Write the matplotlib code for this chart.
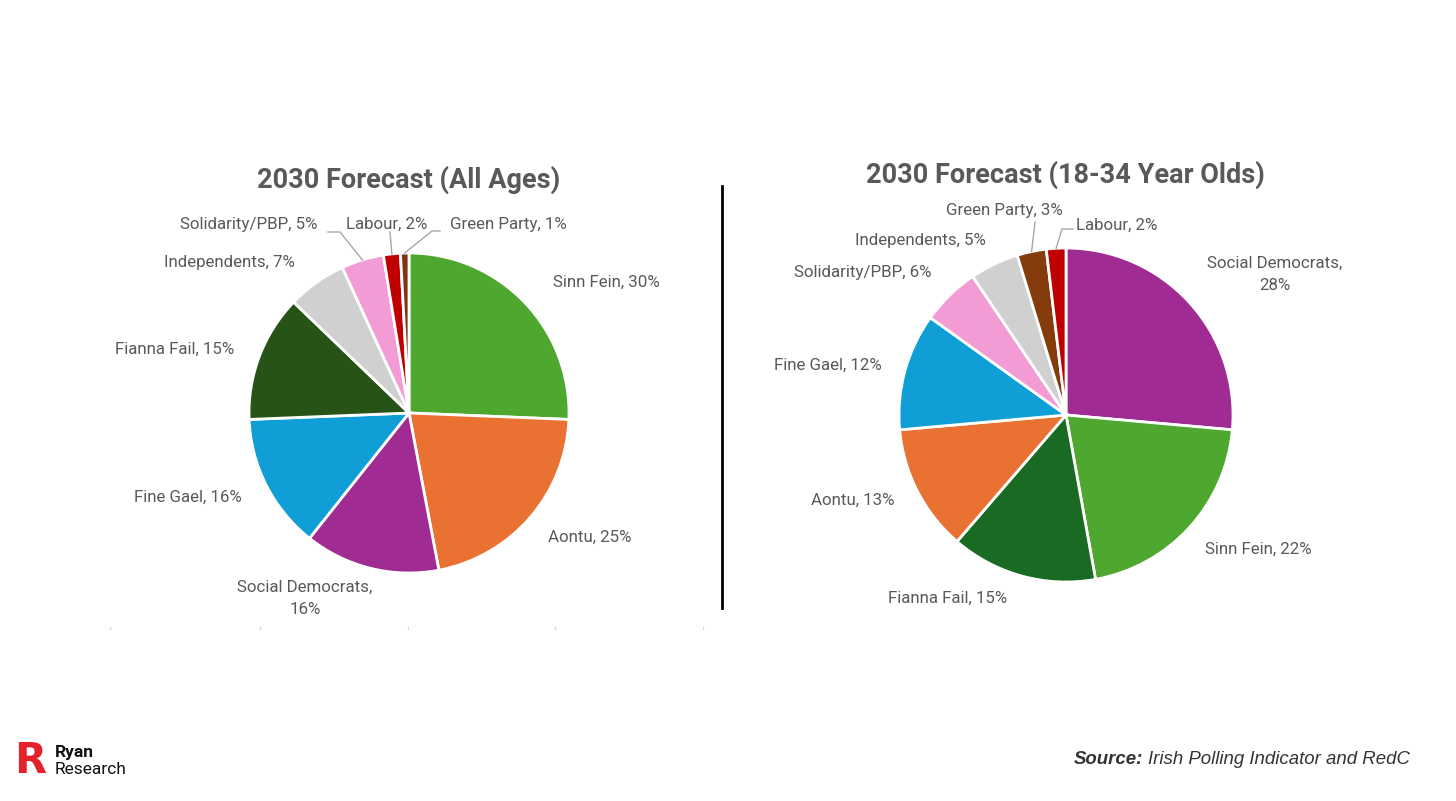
import matplotlib.pyplot as plt
import numpy as np

W, H = 1456, 801

# left pie: all ages
parties_all = ["Sinn Fein", "Aontu", "Social Democrats", "Fine Gael", "Fianna Fail",
               "Independents", "Solidarity/PBP", "Labour", "Green Party"]
share_all = [30, 25, 16, 16, 15, 7, 5, 2, 1]
colors_all = ["#4EA72E", "#E97132", "#A02B93", "#0F9ED5", "#275317",
              "#D0D0D0", "#F29BD4", "#C00000", "#7F3510"]

# right pie: 18-34 year olds
parties_young = ["Social Democrats", "Sinn Fein", "Fianna Fail", "Aontu", "Fine Gael",
                 "Solidarity/PBP", "Independents", "Green Party", "Labour"]
share_young = [28, 22, 15, 13, 12, 6, 5, 3, 2]
colors_young = ["#A02B93", "#4EA72E", "#196B24", "#E97132", "#0F9ED5",
                "#F29BD4", "#D0D0D0", "#843C0C", "#C00000"]

GREY = "#595959"
plt.rcParams['font.family'] = ['Roboto', 'DejaVu Sans']

fig = plt.figure(figsize=(W / 100, H / 100), dpi=100)
ax = fig.add_axes([0, 0, 1, 1])


def py(y):
    # pixel row from top -> axes y
    return H - y


def draw_pie(cx, cy, r, values, colors):
    wedges, _ = ax.pie(values, colors=colors, startangle=90, counterclock=False,
                       center=(cx, py(cy)), radius=r,
                       wedgeprops=dict(edgecolor="white", linewidth=2))
    return wedges


def wedge_edge(w, frac=1.0):
    ang = np.deg2rad((w.theta1 + w.theta2) / 2)
    return w.center[0] + w.r * frac * np.cos(ang), w.center[1] + w.r * frac * np.sin(ang)


def label(txt, x, y):
    ax.text(x, py(y), txt, ha="center", va="center", fontsize=12.2, color=GREY,
            linespacing=1.6)


def leader(w, pts):
    ex, ey = wedge_edge(w)
    xs = [p[0] for p in pts] + [ex]
    ys = [py(p[1]) for p in pts] + [ey]
    ax.plot(xs, ys, color="#A6A6A6", lw=1)


w_all = draw_pie(409, 413, 160, share_all, colors_all)
w_young = draw_pie(1066, 415, 167, share_young, colors_young)

ax.set_xlim(0, W)
ax.set_ylim(0, H)
ax.axis("off")

# titles
ax.text(409, py(180), "2030 Forecast (All Ages)", ha="center", va="center",
        fontsize=19.5, fontweight="bold", color=GREY)
ax.text(1065, py(175), "2030 Forecast (18-34 Year Olds)", ha="center", va="center",
        fontsize=19.5, fontweight="bold", color=GREY)

# labels left
pos_all = [(606, 282), (590, 537), (305, 598), (188, 497), (175, 349),
           (229, 262), (249, 224), (387, 224), (508, 224)]
for name, v, (x, y) in zip(parties_all, share_all, pos_all):
    txt = f"{name}, {v}%" if name != "Social Democrats" else f"{name},\n{v}%"
    label(txt, x, y)
leader(w_all[6], [(328, 232), (340, 232)])
leader(w_all[7], [(390, 232)])
leader(w_all[8], [(440, 231), (432, 231)])

# labels right
pos_young = [(1275, 274), (1258, 549), (948, 598), (853, 500), (828, 365),
             (863, 273), (920, 241), (1004, 211), (1117, 225)]
for name, v, (x, y) in zip(parties_young, share_young, pos_young):
    txt = f"{name}, {v}%" if name != "Social Democrats" else f"{name},\n{v}%"
    label(txt, x, y)
leader(w_young[7], [(1035, 222)])
leader(w_young[8], [(1073, 229), (1062, 229)])

# divider
ax.plot([722, 722], [py(186), py(608)], color="black", lw=2)

# faint tick marks under left chart
for tx in [110, 260, 408, 555, 703]:
    ax.plot([tx, tx], [py(627), py(629)], color="#D9D9D9", lw=1)

# logo
ax.text(14, py(761), "R", ha="left", va="center", fontsize=30, fontweight="bold",
        color="#E3222B", family="DejaVu Sans")
ax.text(55, py(752), "Ryan", ha="left", va="center", fontsize=12.5, fontweight="bold",
        color="#111111")
ax.text(55, py(769), "Research", ha="left", va="center", fontsize=12.5, color="#111111")

# source
src = ax.text(1410, py(759), "Irish Polling Indicator and RedC", ha="right", va="center",
              fontsize=13.4, style="italic", color="#333333", family="Liberation Sans")
fig.canvas.draw()
bb = src.get_window_extent(renderer=fig.canvas.get_renderer())
ax.text(bb.x0 - 5, py(759), "Source:", ha="right", va="center", fontsize=13.4,
        style="italic", fontweight="bold", color="#333333", family="Liberation Sans")

fig.savefig("out.png", dpi=100)
